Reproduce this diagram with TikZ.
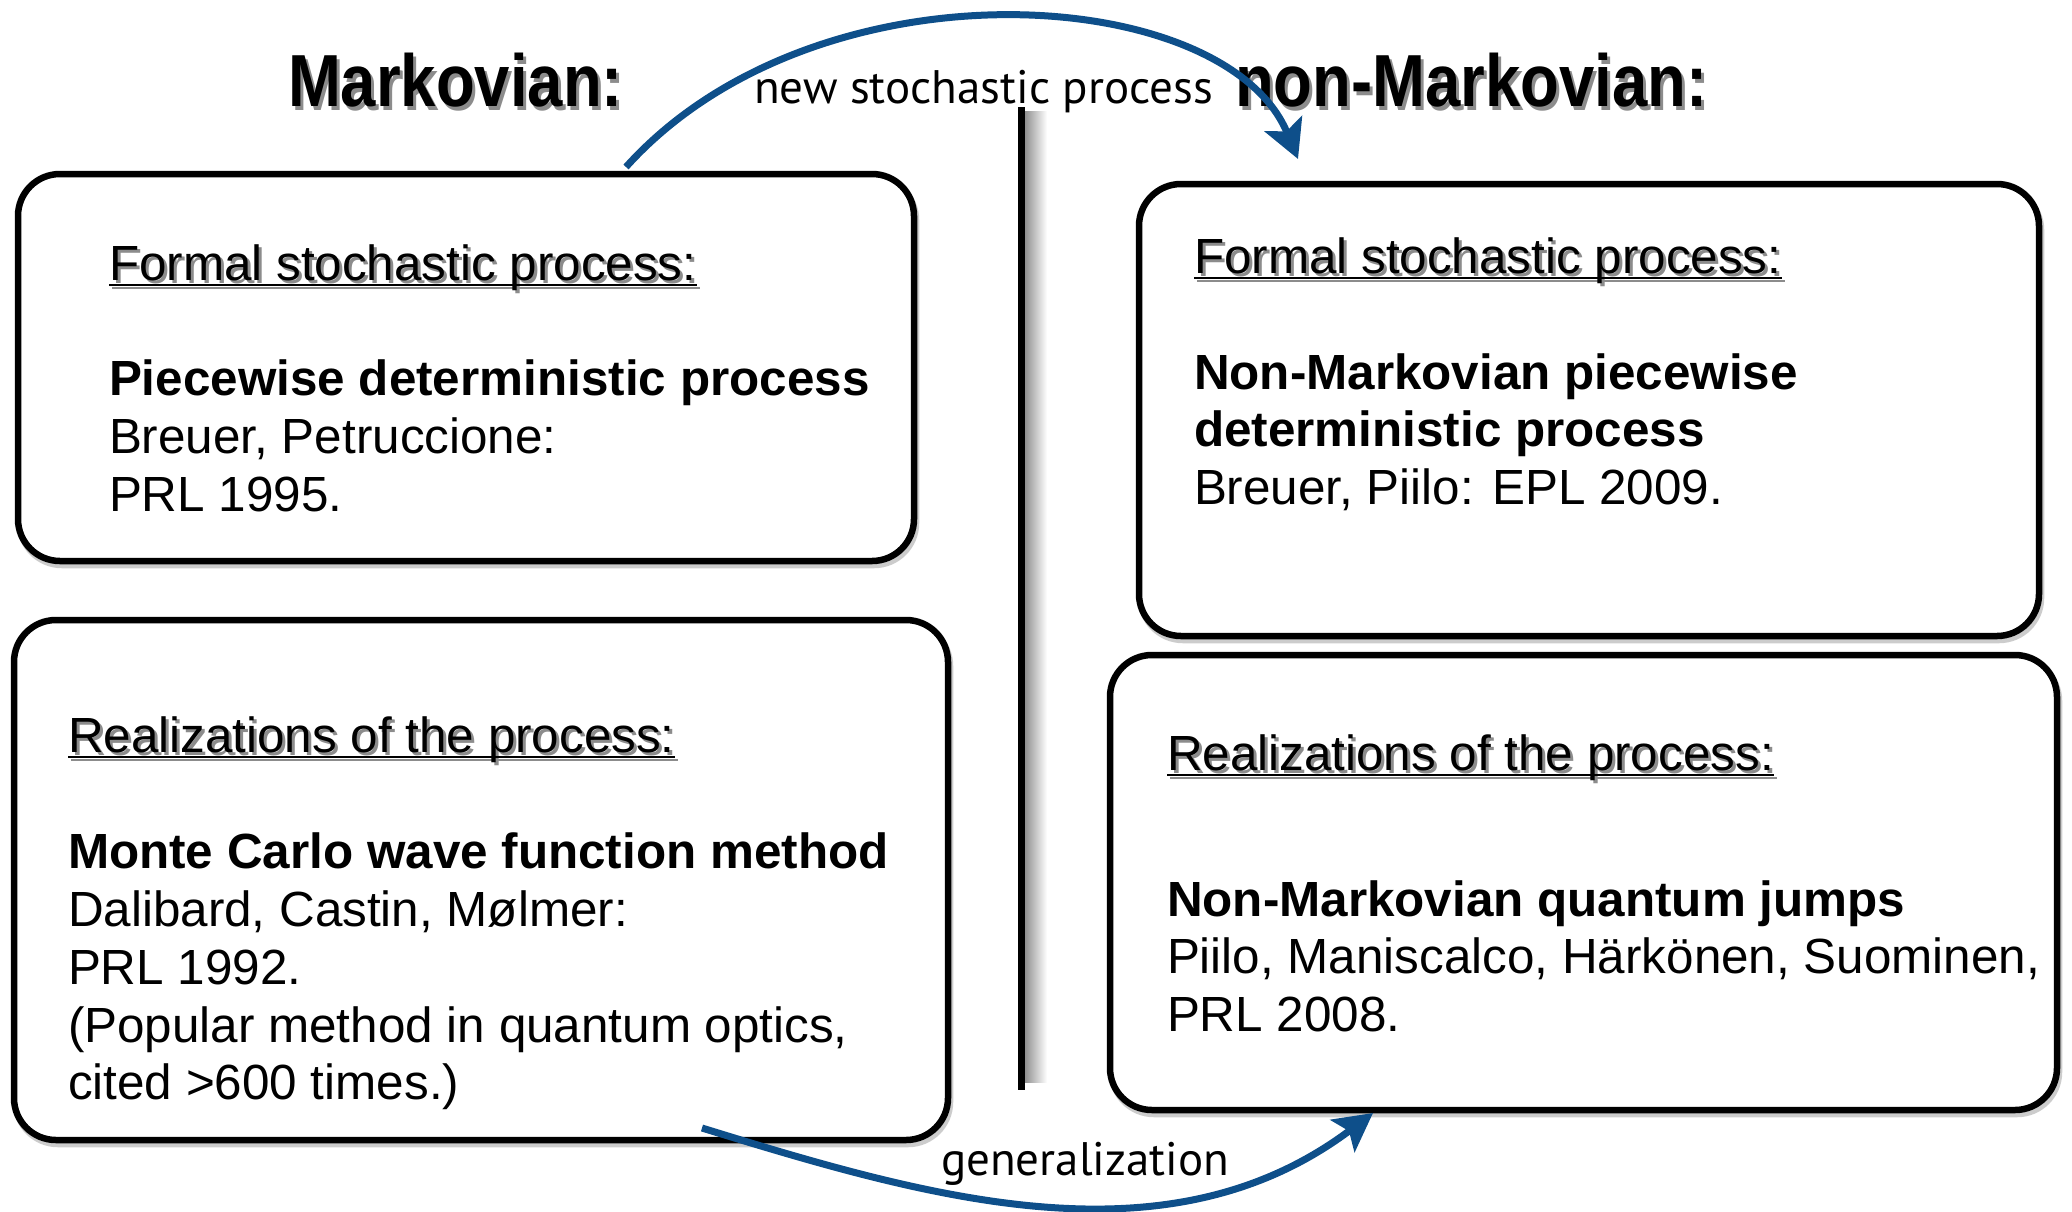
\documentclass[tikz,border=0pt]{standalone}
\usepackage{fontspec}
\setmainfont{Liberation Sans}
\newfontfamily\titlefont{Liberation Sans}[FakeStretch=0.86]
\newfontfamily\labelfont{PT Sans}
\usetikzlibrary{arrows.meta,calc}

\definecolor{arrowblue}{RGB}{14,79,138}
\definecolor{shadowgray}{RGB}{140,140,140}

\newcommand\bodysize{\fontsize{49.4}{58}\selectfont}
\newcommand\titlesize{\fontsize{73.8}{80}\selectfont}
\newcommand\labelsize{\fontsize{47}{50}\selectfont}

% underlined heading with a soft drop shadow: name, position, text
\newcommand\shadedheading[3]{%
  \node[txt, text=shadowgray] (#1s) at ($(#2)+(3,3)$) {#3};
  \draw[ulshadow] ([yshift=-5pt]#1s.base west) -- ([yshift=-5pt]#1s.base east);
  \node[txt] (#1) at (#2) {#3};
  \draw[ul] ([yshift=-5pt]#1.base west) -- ([yshift=-5pt]#1.base east);
}
% column title with drop shadow: name, position, text
\newcommand\columntitle[3]{%
  \node[ttl, text=shadowgray] (#1s) at ($(#2)+(3,4)$) {#3};
  \node[ttl] (#1) at (#2) {#3};
}
% rounded box with a faint offset shadow: name, north-west corner, width, height
\newcommand\roundbox[4]{%
  \draw[boxshadow] ($(#2)+(2,4)$) rectangle ($(#2)+(#3,#4)+(2,4)$);
  \node[box, minimum width=#3pt, minimum height=#4pt] (#1) at (#2) {};
}

\begin{document}
\begin{tikzpicture}[x=1pt,y=-1pt,
  box/.style={draw=black, fill=white, line width=6.5pt, rounded corners=42pt,
    inner sep=0pt, outer sep=0pt, anchor=north west},
  boxshadow/.style={draw=black!20, line width=6.5pt, rounded corners=42pt},
  txt/.style={anchor=base west, inner sep=0pt, outer sep=0pt, font=\bodysize},
  bold/.style={txt, font=\bodysize\bfseries},
  ttl/.style={anchor=base west, inner sep=0pt, outer sep=0pt, font=\titlefont\bfseries\titlesize},
  lbl/.style={anchor=base west, inner sep=0pt, outer sep=0pt, font=\labelfont\labelsize},
  ul/.style={draw=black, line width=2.8pt},
  ulshadow/.style={draw=shadowgray, line width=2.8pt},
  conn/.style={draw=arrowblue, line width=7pt,
    -{Stealth[length=38pt,width=40pt,inset=8pt]}},
  divider/.style={draw=black, line width=7pt}]

\useasboundingbox (0,0) rectangle (2072,1211);

% central divider with its blurred shadow
\coordinate (vtop) at (1021,107);
\coordinate (vbot) at (1021,1090);
\shade[left color=black!45, right color=white]
  ([xshift=3pt,yshift=-4pt]vtop) rectangle ([xshift=26pt,yshift=8pt]vbot);
\draw[divider] (vtop) -- (vbot);

% the four boxes
\roundbox{b1}{18,174}{896}{387}
\roundbox{b2}{14,620}{934}{520}
\roundbox{b3}{1139,184}{900}{452}
\roundbox{b4}{1110,655}{947}{455}

% column titles
\columntitle{tm}{288,106}{Markovian:}
\columntitle{tn}{1235,106}{non-Markovian:}

% box 1: Markovian, formal process
\shadedheading{h1}{109,280}{Formal stochastic process:}
\node[bold] (p1a) at (109,395) {Piecewise deterministic process};
\node[txt] (p1b) at (109,453) {Breuer, Petruccione:};
\node[txt] (p1c) at (109,511) {PRL 1995.};

% box 2: Markovian, realizations
\shadedheading{h2}{68,752}{Realizations of the process:}
\node[bold] (p2a) at (68,868) {Monte Carlo wave function method};
\node[txt] (p2b) at (68,926) {Dalibard, Castin, Mølmer:};
\node[txt] (p2c) at (68,984) {PRL 1992.};
\node[txt] (p2d) at (68,1042) {(Popular method in quantum optics,};
\node[txt] (p2e) at (68,1099) {cited >600 times.)};

% box 3: non-Markovian, formal process
\shadedheading{h3}{1194,273}{Formal stochastic process:}
\node[bold] (p3a) at (1194,389) {Non-Markovian piecewise};
\node[bold] (p3b) at (1194,446) {deterministic process};
\node[txt] (p3c) at (1194,504) {Breuer, Piilo: EPL 2009.};

% box 4: non-Markovian, realizations
\shadedheading{h4}{1167,770}{Realizations of the process:}
\node[bold] (p4a) at (1167,916) {Non-Markovian quantum jumps};
\node[txt] (p4b) at (1167,973) {Piilo, Maniscalco, Härkönen, Suominen,};
\node[txt] (p4c) at (1167,1031) {PRL 2008.};

% connector labels
\node[lbl] (l1) at (754,103) {new stochastic process};
\node[lbl] (l2) at (941,1175) {generalization};

% curved connectors
\coordinate (a1s) at (626,167);
\coordinate (a1e) at (1298,159);
\draw[conn] (a1s) .. controls (816,-44) and (1225,-17) .. (a1e);
\coordinate (a2s) at (702,1128);
\coordinate (a2e) at (1373,1113);
\draw[conn] (a2s) .. controls (932,1199) and (1168,1267) .. (a2e);
\end{tikzpicture}
\end{document}
